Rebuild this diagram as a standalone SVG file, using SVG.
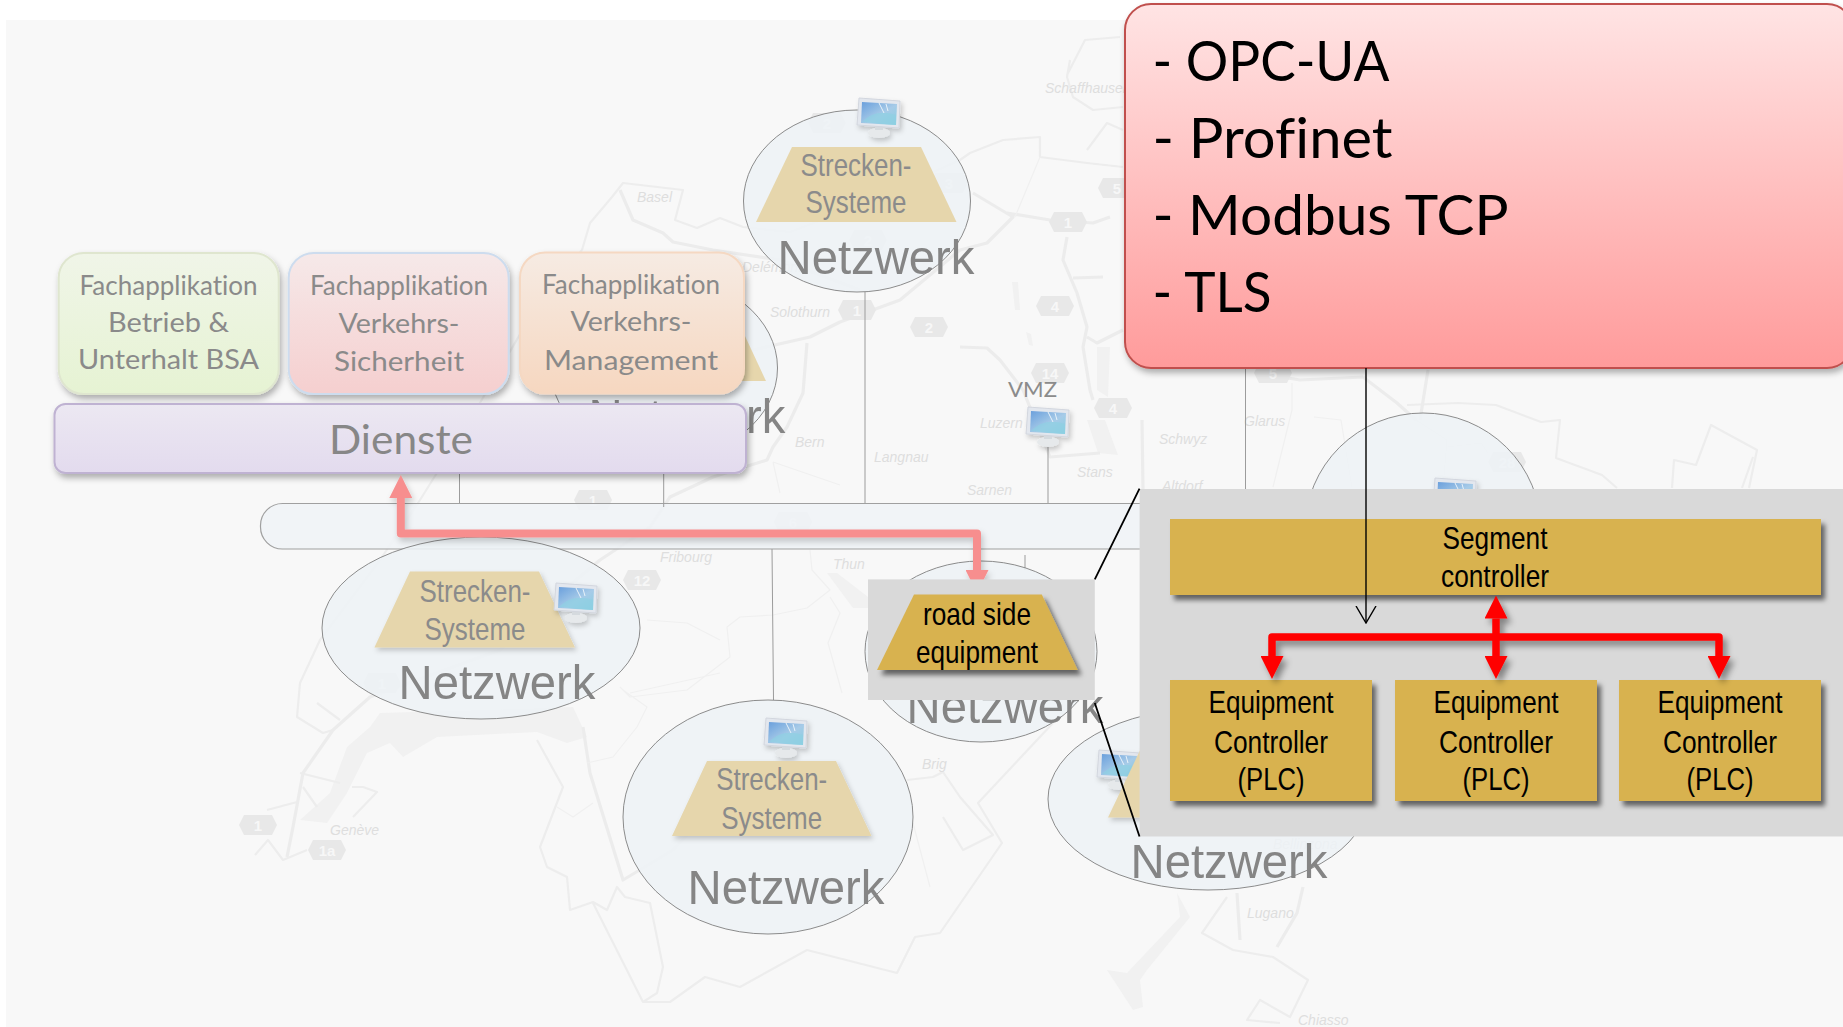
<svg xmlns="http://www.w3.org/2000/svg" width="1843" height="1027" viewBox="0 0 1843 1027">
<style>
.sans{font-family:"Liberation Sans",Arial,sans-serif}
.lato{font-family:Lato,"Noto Sans",sans-serif;font-variant-ligatures:none}
.net{fill:#eef2f6;fill-opacity:.86;stroke:#7f7f7f;stroke-width:.9}
.trap{fill:#e6d6ac}
.tt{font-family:"Liberation Sans",Arial,sans-serif;font-size:32px;fill:#8b8b8b;text-anchor:middle}
.nw{font-family:"Liberation Sans",Arial,sans-serif;font-size:49px;fill:#858585;text-anchor:middle}
.fa{font-family:Lato,"Noto Sans",sans-serif;font-variant-ligatures:none;font-size:26px;fill:#8a8a8a;text-anchor:middle}
.bk{font-family:"Liberation Sans",Arial,sans-serif;font-size:32px;fill:#000;text-anchor:middle}
.rd{font-family:Lato,"Noto Sans",sans-serif;font-variant-ligatures:none;font-size:56px;fill:#000}
.gold{fill:#d8b250}
.vl{stroke:#9c9c9c;stroke-width:1;fill:none}
.border{fill:none;stroke:#ededed;stroke-width:2.200;stroke-linejoin:round}
.thin{fill:none;stroke:#f0f0f0;stroke-width:1.200;stroke-linejoin:round}
.road{fill:none;stroke:#ececec;stroke-width:3.200;stroke-linejoin:round}
.lake{fill:#f1f1f1}
.ml{font-family:"Liberation Sans",Arial,sans-serif;font-size:14px;font-style:italic;fill:#dedede}
.sn{font-family:"Liberation Sans",Arial,sans-serif;font-size:15px;font-weight:bold;fill:#f7f7f7;text-anchor:middle}
</style>
<defs>
<filter id="sd" x="-15%" y="-15%" width="130%" height="140%"><feDropShadow dx="2" dy="4" stdDeviation="3" flood-color="#000" flood-opacity=".3"/></filter>
<filter id="sl" x="-20%" y="-20%" width="150%" height="150%"><feDropShadow dx="2" dy="3" stdDeviation="2.500" flood-color="#000" flood-opacity=".2"/></filter>
<filter id="sg" x="-10%" y="-10%" width="125%" height="125%"><feDropShadow dx="4" dy="5" stdDeviation="2.500" flood-color="#000" flood-opacity=".55"/></filter>
<filter id="sc" filterUnits="userSpaceOnUse" x="0" y="0" width="1843" height="1027"><feDropShadow dx="4" dy="5" stdDeviation="3" flood-color="#000" flood-opacity=".4"/></filter>
<filter id="sp" filterUnits="userSpaceOnUse" x="0" y="0" width="1843" height="1027"><feDropShadow dx="2" dy="4" stdDeviation="3" flood-color="#000" flood-opacity=".2"/></filter>
<linearGradient id="gG" x1="0" y1="0" x2="0" y2="1"><stop offset="0" stop-color="#f0f5e8"/><stop offset="1" stop-color="#e6f3d3"/></linearGradient>
<linearGradient id="gP" x1="0" y1="0" x2="0" y2="1"><stop offset="0" stop-color="#f6e9e9"/><stop offset="1" stop-color="#f5cfcf"/></linearGradient>
<linearGradient id="gO" x1="0" y1="0" x2="0" y2="1"><stop offset="0" stop-color="#f6ebe3"/><stop offset="1" stop-color="#f6d7c0"/></linearGradient>
<linearGradient id="gD" x1="0" y1="0" x2="0" y2="1"><stop offset="0" stop-color="#ece8f2"/><stop offset="1" stop-color="#e3dbee"/></linearGradient>
<linearGradient id="gR" x1="0" y1="0" x2="0" y2="1"><stop offset="0" stop-color="#ffe4e4"/><stop offset="1" stop-color="#ff9b9b"/></linearGradient>
<linearGradient id="gS" x1="0" y1="0" x2="1" y2="1"><stop offset="0" stop-color="#6a9fdc"/><stop offset=".55" stop-color="#a7cbe8"/><stop offset="1" stop-color="#86cfe0"/></linearGradient>
<polygon id="shd" points="-19,0 -14,-10 14,-10 19,0 14,10 -14,10" fill="#e8e8e8"/>
<g id="mon" filter="url(#sl)">
<ellipse cx="22" cy="35" rx="11" ry="5" fill="#e6e9eb"/>
<rect x="18" y="27" width="8" height="5" fill="#d5dade"/>
<polygon points="2,0 43,3 42,30 0,27" fill="#e3e7ee" stroke="#d2d6de" stroke-width="1"/>
<polygon points="5,4 40,6 39,27 4,25" fill="url(#gS)"/>
<path d="M5 24 Q18 10 39 17 L39 27 Z" fill="#8fd0e2" fill-opacity=".7"/>
<path d="M22 5 L27 15 M29 6 L31 13" stroke="#e8f2fa" stroke-width="1" fill="none"/>
</g>
<marker id="ar" viewBox="0 0 23 23" refX="0" refY="11.500" markerWidth="23" markerHeight="23" markerUnits="userSpaceOnUse" orient="auto-start-reverse"><path d="M0 0L23 11.500L0 23Z" fill="#ff0000"/></marker>
<marker id="ap" viewBox="0 0 23 23" refX="0" refY="11.500" markerWidth="23" markerHeight="23" markerUnits="userSpaceOnUse" orient="auto-start-reverse"><path d="M0 0L23 11.500L0 23Z" fill="#f78e8e"/></marker>
<marker id="ak" viewBox="0 0 18 22" refX="17" refY="11" markerWidth="18" markerHeight="22" markerUnits="userSpaceOnUse" orient="auto"><path d="M0 1L17 11L0 21" fill="none" stroke="#000" stroke-width="1.400"/></marker>
</defs>

<rect width="1843" height="1027" fill="#ffffff"/>
<rect x="6" y="20" width="1837" height="1007" fill="#f8f8f8"/>

<g id="map">
<path class="lake" d="M380 713L573 707L587 737L567 743L537 732L437 737L403 757L390 743L367 753L347 793L327 823L300 820L330 793L347 747L370 727Z"/>
<path class="lake" d="M827 573L837 573L868 597L868 608L853 608Z"/>
<path class="lake" d="M1097 347L1110 347L1108 397L1097 390Z"/>
<path class="lake" d="M1177 893L1190 917L1147 970L1140 980L1143 1007L1133 1010L1107 970L1127 973L1180 917Z"/>
<path class="lake" d="M1087 420L1105 420L1118 455L1098 453Z"/>
<path class="lake" d="M1012 282L1018 282L1020 310L1015 310ZM1026 332L1031 334L1033 346L1029 345Z"/>
<path class="border" d="M582 250L590 223L612 197L623 183L683 190L675 220L697 228L720 218L743 227L790 232L860 205L960 160L970 153L1003 140L1040 137L1040 157L1087 163L1123 167M1087 150L1107 123L1123 130M1070 60L1067 77L1073 97L1093 110L1123 107M1067 75L1085 40L1120 37"/>
<path class="border" d="M582 250L540 300L470 420L420 500L380 560L320 640L300 683L297 717L323 733L333 730M317 703L340 720M300 773L340 783M303 787L317 807M267 810L297 802M255 855L268 840L283 860L307 850M353 817L377 792L363 787L352 787"/>
<path class="border" d="M537 740L563 787L540 847L547 867L567 877L570 910L593 902L607 910L617 887L625 897L650 903L663 967L657 993L643 1002M593 903L643 1002L670 1002L705 977L740 987L807 950L897 973L915 937L940 933L1002 843L978 803L1053 723"/>
<path class="border" d="M943 817L963 850L993 835L960 797L943 772L933 777L907 780"/>
<path class="border" d="M1227 897L1202 933L1233 950L1273 957L1308 980L1290 1017L1260 1000L1247 1020L1280 1023"/>
<path class="border" d="M1407 405L1458 403L1496 405L1541 422L1560 420L1556 458L1602 475L1617 488M1672 488L1674 460L1696 465L1711 425L1757 450L1749 488M1753 457L1742 488"/>
<path class="road" d="M620 190L633 220L663 233L673 242L713 250L780 260L860 290"/>
<path class="road" d="M753 350L810 337L840 322L900 300L960 250L987 243L1013 217L973 193M1007 213L1050 220L1093 223L1110 217"/>
<path class="road" d="M807 343L803 393L787 427L773 447L767 460L713 477L670 497L650 527L600 560L540 610L500 650L370 697L333 730L303 773L293 827L287 857"/>
<path class="road" d="M1067 237L1063 260L1077 293L1087 327L1083 347L1090 390L1093 400M1073 278L1103 277M1087 337L1097 343L1123 330"/>
<path class="road" d="M960 347L987 348L1000 360L1023 390L1050 457L1100 453M1142 420L1143 490M1257 373L1300 380L1363 377M1363 377L1397 403L1416 420M1428 370L1420 420"/>
<path class="road" d="M583 727L590 773L623 880L673 850L720 800M1237 893L1240 940M1303 887L1297 913L1277 947"/>
<path class="thin" d="M587 763L613 757L637 727L647 707L623 690M630 693L720 673M647 620L687 623L720 640M620 687L630 697L687 690L730 657L727 627L740 617L773 615L807 608L830 590L812 570L810 550M830 597L840 613L828 643L842 693M773 462L780 493M773 462L840 485"/>
<path class="thin" d="M557 807L573 817L593 803M913 823L930 887M1292 383L1292 410L1273 487M1314 417L1341 420L1352 488M1416 420L1447 440L1443 488M1447 447L1481 443L1488 453M1040 157L1015 217M1150 167L1130 250"/>
<g><use href="#shd" x="382" y="683"/><text class="sn" x="382" y="689">1</text><use href="#shd" x="258" y="825"/><text class="sn" x="258" y="831">1</text><use href="#shd" x="327" y="850"/><text class="sn" x="327" y="856">1a</text><use href="#shd" x="642" y="580"/><text class="sn" x="642" y="586">12</text><use href="#shd" x="1068" y="222"/><text class="sn" x="1068" y="228">1</text><use href="#shd" x="1117" y="188"/><text class="sn" x="1117" y="194">5</text><use href="#shd" x="1055" y="306"/><text class="sn" x="1055" y="312">4</text><use href="#shd" x="1050" y="373"/><text class="sn" x="1050" y="379">14</text><use href="#shd" x="1113" y="408"/><text class="sn" x="1113" y="414">4</text><use href="#shd" x="593" y="500"/><text class="sn" x="593" y="506">1</text><use href="#shd" x="793" y="522"/><text class="sn" x="793" y="528">6</text><use href="#shd" x="1507" y="462"/><text class="sn" x="1507" y="468">28</text><use href="#shd" x="1273" y="373"/><text class="sn" x="1273" y="379">5</text><use href="#shd" x="857" y="310"/><text class="sn" x="857" y="316">1</text><use href="#shd" x="929" y="327"/><text class="sn" x="929" y="333">2</text><use href="#shd" x="949" y="183"/><text class="sn" x="949" y="189">3</text><use href="#shd" x="868" y="240"/><text class="sn" x="868" y="246">2</text><use href="#shd" x="827" y="123"/><text class="sn" x="827" y="129">2</text></g>
<text class="ml" x="1045" y="93">Schaffhausen</text><text class="ml" x="637" y="202">Basel</text><text class="ml" x="742" y="272">Delémont</text><text class="ml" x="770" y="317">Solothurn</text><text class="ml" x="795" y="447">Bern</text><text class="ml" x="874" y="462">Langnau</text><text class="ml" x="660" y="562">Fribourg</text><text class="ml" x="833" y="569">Thun</text><text class="ml" x="330" y="835">Genève</text><text class="ml" x="980" y="428">Luzern</text><text class="ml" x="967" y="495">Sarnen</text><text class="ml" x="1077" y="477">Stans</text><text class="ml" x="1159" y="444">Schwyz</text><text class="ml" x="1244" y="426">Glarus</text><text class="ml" x="1162" y="491">Altdorf</text><text class="ml" x="1273" y="849">Bellinzona</text><text class="ml" x="1247" y="918">Lugano</text><text class="ml" x="1298" y="1025">Chiasso</text><text class="ml" x="922" y="769">Brig</text>
</g>

<g id="bus"><rect x="260.500" y="503.500" width="1000" height="45.500" rx="22" fill="#eff3f6" fill-opacity=".9" stroke="#a0a0a0" stroke-width="1.200"/></g>

<g id="links">
<path class="vl" d="M459.500 473V503M663.700 473V507M865 292V503M1245.500 368V489M772 549L773.500 700M1048 445V503M1025 555V570"/>
</g>

<g id="net-1"><ellipse class="net" cx="857" cy="201" rx="113.500" ry="91"/><use href="#mon" x="857" y="98"/><polygon class="trap" points="792,147 921,147 956.500,222 756,222"/><text class="tt" x="856" y="176" textLength="111" lengthAdjust="spacingAndGlyphs">Strecken-</text><text class="tt" x="856" y="213" textLength="101" lengthAdjust="spacingAndGlyphs">Systeme</text><text class="nw" x="876" y="274" textLength="197" lengthAdjust="spacingAndGlyphs">Netzwerk</text></g>
<g id="net-2"><ellipse class="net" cx="664" cy="368" rx="113.500" ry="91"/><polygon class="trap" points="602,306 731,306 766,381 566,381"/><text class="nw" x="687" y="433" textLength="197" lengthAdjust="spacingAndGlyphs">Netzwerk</text></g>
<g id="net-3"><ellipse class="net" cx="481" cy="628" rx="159" ry="91"/><polygon class="trap" points="410,571.600 539,571.600 575,647.600 374.400,647.600" filter="url(#sl)"/><use href="#mon" x="554" y="583"/><text class="tt" x="475" y="601.500" textLength="111" lengthAdjust="spacingAndGlyphs">Strecken-</text><text class="tt" x="475" y="639.500" textLength="101" lengthAdjust="spacingAndGlyphs">Systeme</text><text class="nw" x="497" y="699" textLength="197" lengthAdjust="spacingAndGlyphs">Netzwerk</text></g>
<g id="net-4"><ellipse class="net" cx="768" cy="817" rx="145" ry="117"/><use href="#mon" x="764" y="718"/><polygon class="trap" points="707,761 836,761 871.500,836 672,836" filter="url(#sl)"/><text class="tt" x="771.700" y="790" textLength="111" lengthAdjust="spacingAndGlyphs">Strecken-</text><text class="tt" x="771.700" y="829" textLength="101" lengthAdjust="spacingAndGlyphs">Systeme</text><text class="nw" x="786" y="904" textLength="197" lengthAdjust="spacingAndGlyphs">Netzwerk</text></g>
<g id="net-5"><ellipse class="net" cx="981" cy="651.500" rx="116" ry="90.500"/><text class="nw" x="1005" y="723" textLength="197" lengthAdjust="spacingAndGlyphs">Netzwerk</text></g>
<g id="net-6"><ellipse class="net" cx="1208" cy="799" rx="160" ry="91"/><use href="#mon" x="1097" y="750"/><polygon class="trap" points="1144,742 1273,742 1308,817.600 1108,817.600" filter="url(#sl)"/><text class="nw" x="1229" y="878" textLength="197" lengthAdjust="spacingAndGlyphs">Netzwerk</text></g>
<g id="net-7"><ellipse class="net" cx="1423" cy="530" rx="118" ry="117"/><use href="#mon" x="1433" y="478"/></g>
<g id="vmz"><text class="lato" x="1032.500" y="397" font-size="21" fill="#8b8b8b" text-anchor="middle" textLength="49" lengthAdjust="spacingAndGlyphs">VMZ</text><use href="#mon" x="1026" y="407"/></g>

<g id="app-betrieb"><rect x="58.700" y="253" width="220" height="141" rx="25" fill="url(#gG)" stroke="#dfe6cf" stroke-width="2" filter="url(#sd)"/><text class="fa" x="168.500" y="295" textLength="178" lengthAdjust="spacingAndGlyphs">Fachapplikation</text><text class="fa" x="168.500" y="332" textLength="121" lengthAdjust="spacingAndGlyphs">Betrieb &amp;</text><text class="fa" x="168.500" y="369" textLength="181" lengthAdjust="spacingAndGlyphs">Unterhalt BSA</text></g>
<g id="app-sicherheit"><rect x="288.700" y="253" width="220" height="141" rx="25" fill="url(#gP)" stroke="#cddcee" stroke-width="2" filter="url(#sd)"/><text class="fa" x="399" y="295" textLength="178" lengthAdjust="spacingAndGlyphs">Fachapplikation</text><text class="fa" x="399" y="332.700" textLength="121" lengthAdjust="spacingAndGlyphs">Verkehrs-</text><text class="fa" x="399" y="370.500" textLength="130" lengthAdjust="spacingAndGlyphs">Sicherheit</text></g>
<g id="app-management"><rect x="520" y="252.500" width="224" height="141" rx="25" fill="url(#gO)" stroke="#f5d8c2" stroke-width="2" filter="url(#sd)"/><text class="fa" x="631" y="294" textLength="178" lengthAdjust="spacingAndGlyphs">Fachapplikation</text><text class="fa" x="631" y="331" textLength="121" lengthAdjust="spacingAndGlyphs">Verkehrs-</text><text class="fa" x="631" y="370" textLength="174" lengthAdjust="spacingAndGlyphs">Management</text></g>
<g id="dienste"><rect x="54.500" y="404" width="691.500" height="69" rx="11" fill="url(#gD)" stroke="#bfb2d2" stroke-width="2" filter="url(#sd)"/><text class="lato" x="401" y="454" font-size="41" fill="#878787" text-anchor="middle" textLength="144" lengthAdjust="spacingAndGlyphs">Dienste</text></g>

<g id="connectors-pink" filter="url(#sp)"><path d="M400.800 498V533.600H977V570" fill="none" stroke="#f78e8e" stroke-width="8" marker-start="url(#ap)" marker-end="url(#ap)" stroke-linejoin="round"/></g>

<g id="panel-segment"><rect x="1139.600" y="489" width="703.400" height="347.500" fill="#d9d9d9"/></g>
<g id="panel-road"><rect x="868" y="579.400" width="226.800" height="120.600" fill="#d9d9d9"/></g>

<g id="callout"><rect x="1125" y="4" width="728" height="364" rx="26" fill="url(#gR)" stroke="#c0504d" stroke-width="2" filter="url(#sd)"/><text class="rd" x="1152.500" y="81" textLength="237" lengthAdjust="spacingAndGlyphs">- OPC-UA</text><text class="rd" x="1152.500" y="158" textLength="240" lengthAdjust="spacingAndGlyphs">- Profinet</text><text class="rd" x="1152.500" y="235" textLength="356" lengthAdjust="spacingAndGlyphs">- Modbus TCP</text><text class="rd" x="1152.500" y="311.500" textLength="119" lengthAdjust="spacingAndGlyphs">- TLS</text></g>

<g id="road-side"><polygon class="gold" points="914,594.400 1041.800,594.400 1077.700,670 877,670" filter="url(#sg)"/><text class="bk" x="977" y="624.700" textLength="108" lengthAdjust="spacingAndGlyphs">road side</text><text class="bk" x="977" y="663" textLength="122" lengthAdjust="spacingAndGlyphs">equipment</text></g>
<g id="segment-controller"><rect class="gold" x="1170" y="519" width="651" height="76" filter="url(#sg)"/><text class="bk" x="1495" y="548.700" textLength="105" lengthAdjust="spacingAndGlyphs">Segment</text><text class="bk" x="1495" y="587" textLength="108" lengthAdjust="spacingAndGlyphs">controller</text></g>
<g id="plc-1"><rect class="gold" x="1170" y="680" width="202" height="121" filter="url(#sg)"/><text class="bk" x="1271" y="713" textLength="125" lengthAdjust="spacingAndGlyphs">Equipment</text><text class="bk" x="1271" y="752.500" textLength="114" lengthAdjust="spacingAndGlyphs">Controller</text><text class="bk" x="1271" y="790" textLength="67" lengthAdjust="spacingAndGlyphs">(PLC)</text></g>
<g id="plc-2"><rect class="gold" x="1395" y="680" width="202" height="121" filter="url(#sg)"/><text class="bk" x="1496" y="713" textLength="125" lengthAdjust="spacingAndGlyphs">Equipment</text><text class="bk" x="1496" y="752.500" textLength="114" lengthAdjust="spacingAndGlyphs">Controller</text><text class="bk" x="1496" y="790" textLength="67" lengthAdjust="spacingAndGlyphs">(PLC)</text></g>
<g id="plc-3"><rect class="gold" x="1619" y="680" width="202" height="121" filter="url(#sg)"/><text class="bk" x="1720" y="713" textLength="125" lengthAdjust="spacingAndGlyphs">Equipment</text><text class="bk" x="1720" y="752.500" textLength="114" lengthAdjust="spacingAndGlyphs">Controller</text><text class="bk" x="1720" y="790" textLength="67" lengthAdjust="spacingAndGlyphs">(PLC)</text></g>

<g id="connectors">
<g filter="url(#sc)">
<path d="M1272 656V637H1719V656" fill="none" stroke="#ff0000" stroke-width="7.500" stroke-linejoin="round" marker-start="url(#ar)" marker-end="url(#ar)"/>
<path d="M1496 618.500V656" fill="none" stroke="#ff0000" stroke-width="7.500" marker-start="url(#ar)" marker-end="url(#ar)"/>
</g>
<path d="M1366 368V623" fill="none" stroke="#000" stroke-width="1.400" marker-end="url(#ak)"/>
<path d="M1139.500 488.700L1094.800 579.400M1094.800 703L1139.500 836.500" fill="none" stroke="#000" stroke-width="1.800"/>
</g>
</svg>
